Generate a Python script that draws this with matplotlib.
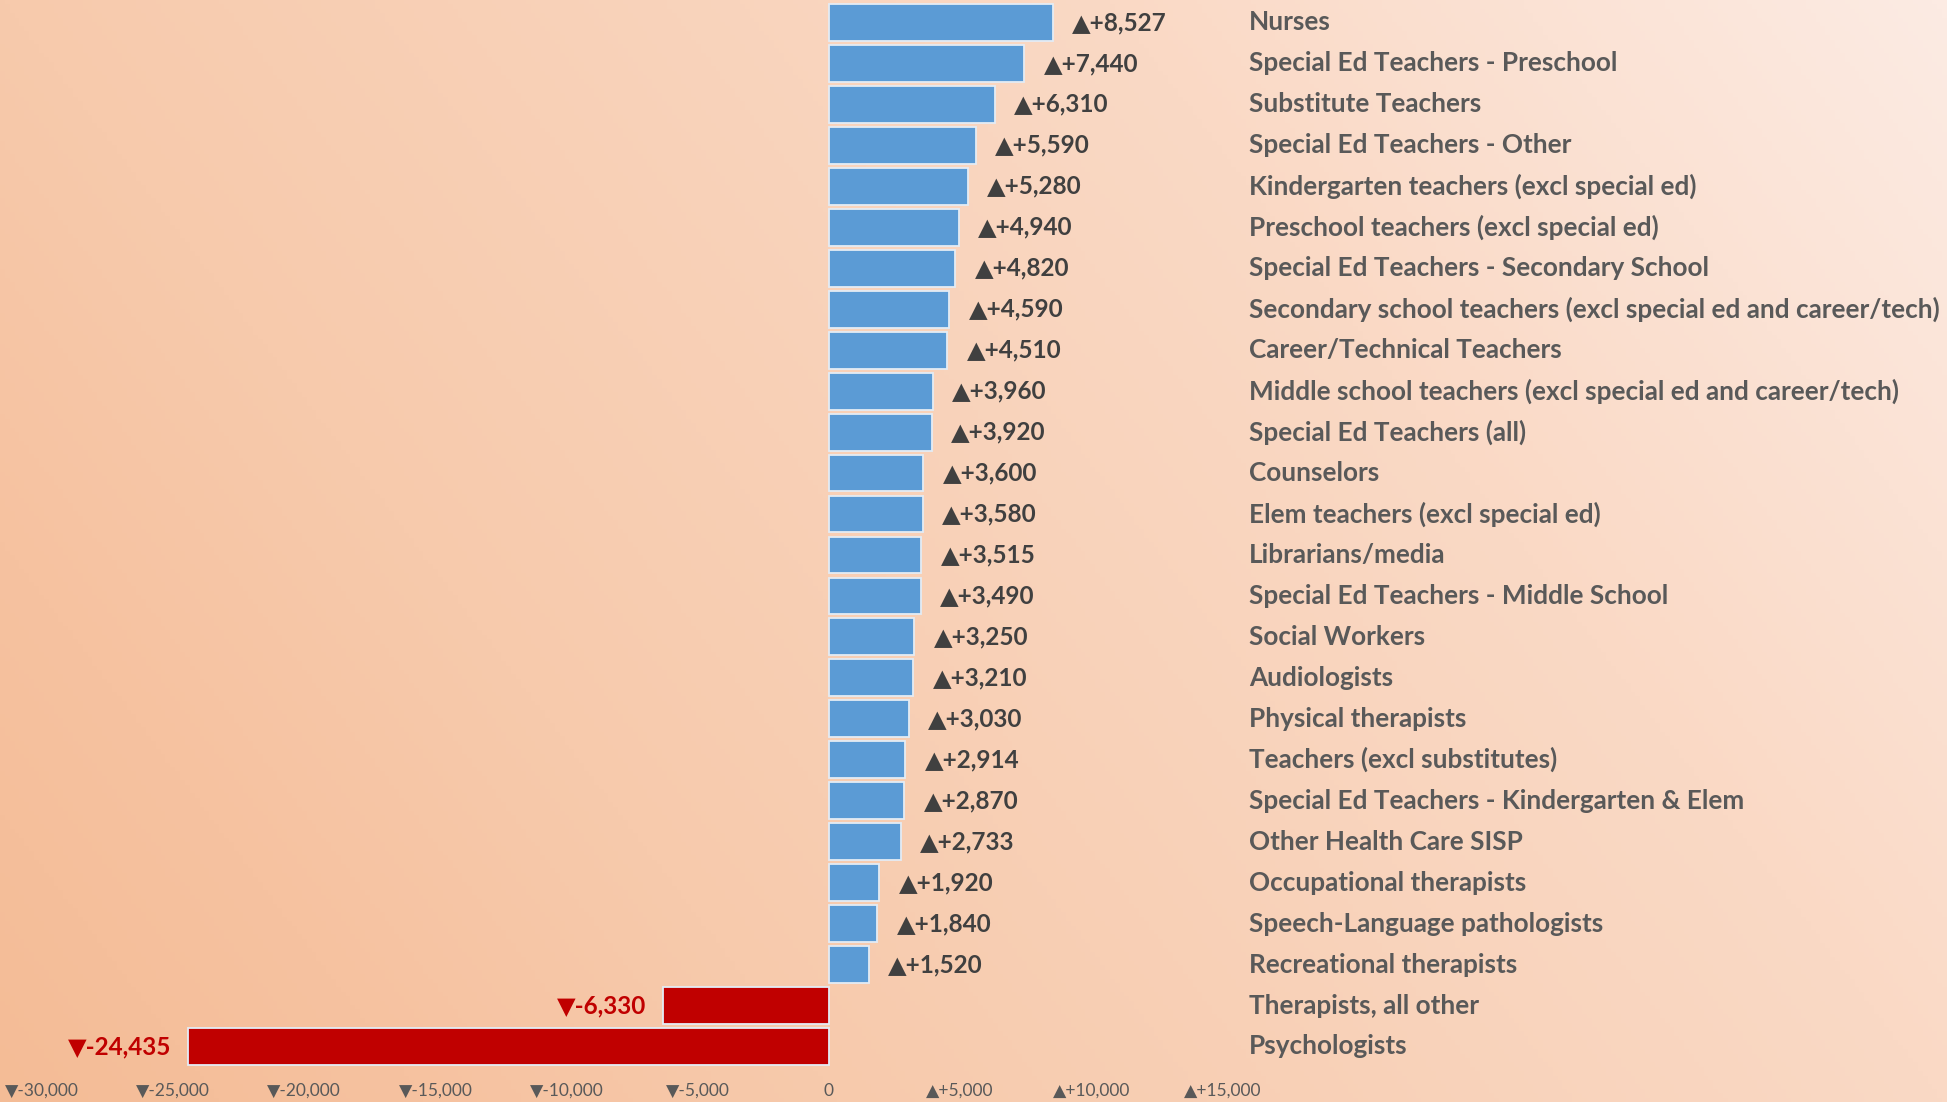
import numpy as np
import matplotlib.pyplot as plt
from matplotlib.colors import LinearSegmentedColormap

categories = [
    'Nurses',
    'Special Ed Teachers - Preschool',
    'Substitute Teachers',
    'Special Ed Teachers - Other',
    'Kindergarten teachers (excl special ed)',
    'Preschool teachers (excl special ed)',
    'Special Ed Teachers - Secondary School',
    'Secondary school teachers (excl special ed and career/tech)',
    'Career/Technical Teachers',
    'Middle school teachers (excl special ed and career/tech)',
    'Special Ed Teachers (all)',
    'Counselors',
    'Elem teachers (excl special ed)',
    'Librarians/media',
    'Special Ed Teachers - Middle School',
    'Social Workers',
    'Audiologists',
    'Physical therapists',
    'Teachers (excl substitutes)',
    'Special Ed Teachers - Kindergarten & Elem',
    'Other Health Care SISP',
    'Occupational therapists',
    'Speech-Language pathologists',
    'Recreational therapists',
    'Therapists, all other',
    'Psychologists',
]
changes = [8527, 7440, 6310, 5590, 5280, 4940, 4820, 4590, 4510, 3960, 3920,
           3600, 3580, 3515, 3490, 3250, 3210, 3030, 2914, 2870, 2733, 1920,
           1840, 1520, -6330, -24435]
tick_values = [-30000, -25000, -20000, -15000, -10000, -5000, 0, 5000, 10000, 15000]

plt.rcParams['font.family'] = ['Lato', 'DejaVu Sans']


def fmt_change(v):
    if v > 0:
        return '\u25b2+{:,}'.format(v)
    if v < 0:
        return '\u25bc-{:,}'.format(-v)
    return '0'


W, H = 1947, 1102
fig = plt.figure(figsize=(W / 100, H / 100), dpi=100)

# background gradient, darker on the left, light top-right
bg = fig.add_axes([0, 0, 1, 1], zorder=0)
gx, gy = np.meshgrid(np.linspace(0, 1, 400), np.linspace(0, 1, 250))
t = 0.7 * gx + 0.3 * (1 - gy)
cmap = LinearSegmentedColormap.from_list('bg', [
    (0.0, '#F4BC96'), (0.15, '#F6C2A0'), (0.3, '#F7CAAC'),
    (0.7, '#FAD9C5'), (1.0, '#FCEBE3')])
bg.imshow(t, cmap=cmap, aspect='auto', extent=[0, 1, 0, 1], origin='upper')
bg.axis('off')

# axes: top at pixel 0, bottom at pixel 1072
bottom_px = 1072
ax = fig.add_axes([0, (H - bottom_px) / H, 1, bottom_px / H], zorder=1)
ax.patch.set_alpha(0)
px_per_unit = 131.2 / 5000
zero_px = 829
ax.set_xlim(-zero_px / px_per_unit, (W - zero_px) / px_per_unit)
row0, step = 22.5, 40.96
ax.set_ylim((bottom_px - row0) / step, -row0 / step)

y = np.arange(len(categories))
colors = ['#5B9BD5' if v > 0 else '#C00000' for v in changes]
ax.barh(y, changes, height=0.9, color=colors, edgecolor='#E4ECF5', linewidth=1.3)

for i, v in enumerate(changes):
    if v > 0:
        ax.annotate(fmt_change(v), (v, i), xytext=(14, 0), textcoords='offset points',
                    ha='left', va='center', fontsize=17.5, fontweight='bold',
                    color='#404040')
    else:
        ax.annotate(fmt_change(v), (v, i), xytext=(-12, 0), textcoords='offset points',
                    ha='right', va='center', fontsize=17.5, fontweight='bold',
                    color='#C00000')
    ax.text(16000, i, categories[i], ha='left', va='center', fontsize=18.8,
            fontweight='bold', color='#595959')

ax.set_xticks(tick_values)
ax.set_xticklabels([fmt_change(v) for v in tick_values], fontsize=12.5, color='#595959')
ax.tick_params(axis='x', length=0, pad=8)
ax.set_yticks([])
for s in ax.spines.values():
    s.set_visible(False)

fig.savefig('out.png', dpi=100)
